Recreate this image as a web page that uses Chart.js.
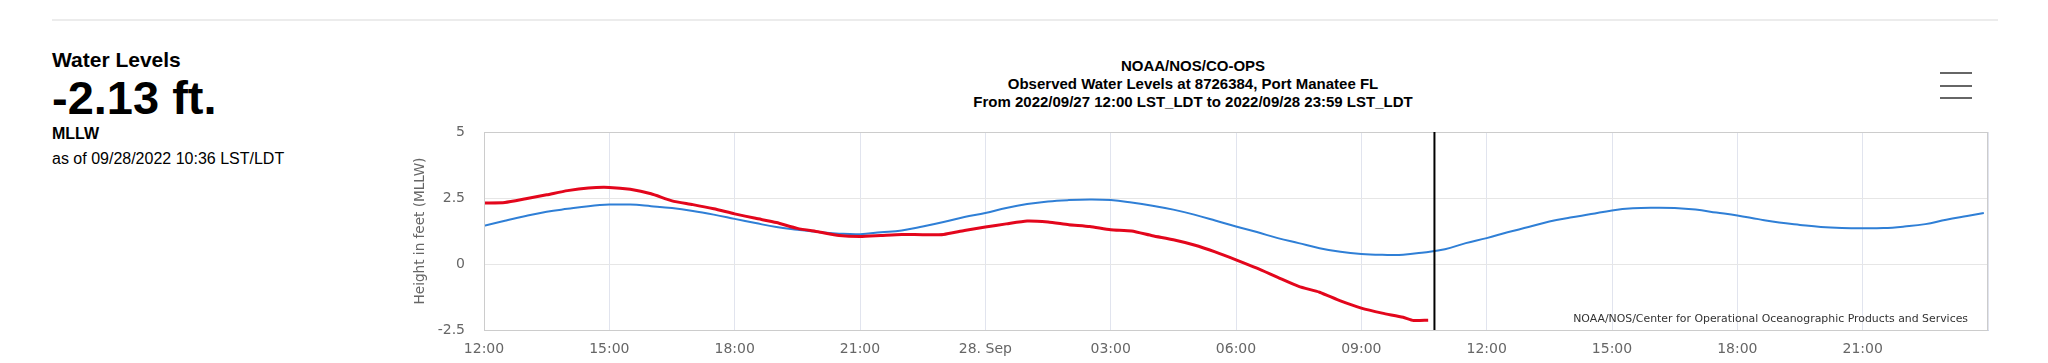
<!DOCTYPE html>
<html>
<head>
<meta charset="utf-8">
<title>Water Levels - Port Manatee FL</title>
<script src="https://cdn.jsdelivr.net/npm/chart.js@4.4.1/dist/chart.umd.min.js"></script>
<style>
  html, body { margin: 0; padding: 0; background: #fff; }
  body { width: 2048px; height: 363px; position: relative; overflow: hidden; font-family: "Liberation Sans", Arial, sans-serif; color: #000; }
  .rule { position: absolute; left: 52px; top: 19px; width: 1946px; height: 2px; background: #ececec; }
  .side div { position: absolute; left: 52px; white-space: nowrap; }
  .t1 { top: 49px; font-size: 21px; line-height: 21px; font-weight: bold; }
  .t2 { top: 74px; font-size: 47px; line-height: 47px; font-weight: bold; }
  .t3 { top: 126px; font-size: 16px; line-height: 16px; font-weight: bold; }
  .t4 { top: 151px; font-size: 16px; line-height: 16px; }
  .title { position: absolute; left: 893px; width: 600px; text-align: center; font-size: 15px; line-height: 15px; font-weight: bold; white-space: nowrap; }
  .menu { position: absolute; left: 1940px; width: 32px; height: 2px; background: #666; }
  .credits { position: absolute; right: 80px; top: 312px; font-family: "DejaVu Sans", sans-serif; font-size: 10.9px; color: #333; white-space: nowrap; }
  #chart { position: absolute; left: 380px; top: 120px; }
</style>
</head>
<body>
<div class="rule"></div>
<div class="side">
  <div class="t1">Water Levels</div>
  <div class="t2">-2.13 ft.</div>
  <div class="t3">MLLW</div>
  <div class="t4">as of 09/28/2022 10:36 LST/LDT</div>
</div>
<div class="title" style="top:58px">NOAA/NOS/CO-OPS</div>
<div class="title" style="top:76px">Observed Water Levels at 8726384, Port Manatee FL</div>
<div class="title" style="top:94px">From 2022/09/27 12:00 LST_LDT to 2022/09/28 23:59 LST_LDT</div>
<div class="menu" style="top:72px"></div>
<div class="menu" style="top:85px"></div>
<div class="menu" style="top:97px"></div>

<canvas id="chart" width="1630" height="243"></canvas>
<div class="credits">NOAA/NOS/Center for Operational Oceanographic Products and Services</div>

<script>
// hours after 2022/09/27 12:00 LST/LDT
const predHours = [0, 0.5, 1, 1.5, 2, 2.5, 3, 3.5, 4, 4.5, 5, 5.5, 6, 6.5, 7, 7.5, 8, 8.5, 9, 9.5,
  10, 10.5, 11, 11.5, 12, 12.5, 13, 13.5, 14, 14.5, 15, 15.5, 16, 16.5, 17, 17.5, 18, 18.5, 19, 19.5,
  20, 20.5, 21, 21.5, 22, 22.5, 23, 23.5, 24, 24.5, 25, 25.5, 26, 26.5, 27, 27.5, 28, 28.5, 29, 29.5,
  30, 30.5, 31, 31.5, 32, 32.5, 33, 33.5, 34, 34.5, 35, 35.5, 35.9];
const predValues = [1.45, 1.64, 1.82, 1.98, 2.09, 2.19, 2.25, 2.25, 2.19, 2.12, 2.01, 1.87, 1.71, 1.55, 1.40, 1.30, 1.21, 1.15, 1.13, 1.20,
  1.27, 1.42, 1.59, 1.78, 1.93, 2.12, 2.27, 2.37, 2.42, 2.44, 2.42, 2.33, 2.21, 2.06, 1.87, 1.65, 1.42, 1.21, 0.98, 0.79,
  0.60, 0.46, 0.38, 0.35, 0.35, 0.44, 0.56, 0.79, 0.98, 1.20, 1.40, 1.61, 1.76, 1.89, 2.03, 2.11, 2.13, 2.12, 2.06, 1.95,
  1.84, 1.70, 1.57, 1.48, 1.40, 1.36, 1.35, 1.36, 1.42, 1.51, 1.68, 1.82, 1.93];

const obsHours = [0, 0.5, 1, 1.5, 2, 2.5, 3, 3.5, 4, 4.5, 5, 5.5, 6, 6.5, 7, 7.5, 8, 8.5, 9, 9.5,
  10, 10.5, 11, 11.5, 12, 12.5, 13, 13.5, 14, 14.5, 15, 15.5, 16, 16.5, 17, 17.5, 18, 18.5, 19, 19.5,
  20, 20.5, 21, 21.5, 22, 22.25, 22.6];
const obsValues = [2.31, 2.33, 2.47, 2.62, 2.78, 2.88, 2.90, 2.83, 2.66, 2.39, 2.25, 2.09, 1.90, 1.73, 1.57, 1.35, 1.22, 1.08, 1.04, 1.08,
  1.12, 1.11, 1.12, 1.27, 1.40, 1.52, 1.63, 1.59, 1.49, 1.42, 1.30, 1.25, 1.07, 0.92, 0.72, 0.46, 0.16, -0.16, -0.51, -0.85,
  -1.07, -1.40, -1.67, -1.86, -2.02, -2.14, -2.13];

const xTickHours = [0, 3, 6, 9, 12, 15, 18, 21, 24, 27, 30, 33, 36];
const xTickLabels = ['12:00', '15:00', '18:00', '21:00', '28. Sep', '03:00', '06:00', '09:00', '12:00', '15:00', '18:00', '21:00', ''];
const nowHour = 22.75;

const plotDecor = {
  id: 'plotDecor',
  afterDraw(chart) {
    const {ctx, chartArea: a, scales} = chart;
    ctx.save();
    ctx.strokeStyle = '#cccccc';
    ctx.lineWidth = 1;
    ctx.strokeRect(a.left + 0.5, a.top + 0.5, a.right - a.left - 1, a.bottom - a.top);
    const x = scales.x.getPixelForValue(nowHour);
    ctx.strokeStyle = '#000';
    ctx.lineWidth = 2;
    ctx.beginPath();
    ctx.moveTo(x, a.top);
    ctx.lineTo(x, a.bottom);
    ctx.stroke();
    ctx.restore();
  }
};

const ctx = document.getElementById('chart').getContext('2d');
const chart = new Chart(ctx, {
  type: 'line',
  data: {
    datasets: [{
      label: 'Observed',
      data: obsHours.map((h, i) => ({x: h, y: obsValues[i]})),
      borderColor: '#e3061c',
      borderWidth: 3,
      pointRadius: 0,
      tension: 0.2
    }, {
      label: 'Predictions',
      data: predHours.map((h, i) => ({x: h, y: predValues[i]})),
      borderColor: '#2f7fd6',
      borderWidth: 2,
      pointRadius: 0,
      tension: 0.4
    }]
  },
  options: {
    responsive: false,
    animation: false,
    layout: { padding: { top: 12, right: 22, left: 0, bottom: 0 } },
    plugins: { legend: { display: false }, tooltip: { enabled: false } },
    scales: {
      x: {
        type: 'linear',
        min: 0,
        max: 36,
        afterFit(s) { s.height = 33; },
        afterBuildTicks(s) { s.ticks = xTickHours.map(v => ({value: v})); },
        ticks: {
          autoSkip: false,
          maxRotation: 0,
          padding: 11,
          color: '#666',
          font: { family: 'DejaVu Sans', size: 14 },
          callback: (v, i) => xTickLabels[i]
        },
        grid: { color: '#e1e4ee', drawTicks: false },
        border: { display: true, color: '#ccd6eb' }
      },
      y: {
        min: -2.5,
        max: 5,
        afterFit(s) { s.width = 104; s.paddingTop = 0; s.paddingBottom = 0; },
        ticks: {
          stepSize: 2.5,
          padding: 19,
          color: '#666',
          font: { family: 'DejaVu Sans', size: 14 }
        },
        title: {
          display: true,
          text: 'Height in feet (MLLW)',
          color: '#666',
          font: { family: 'DejaVu Sans', size: 13.6 },
          padding: { top: 32, bottom: 0 }
        },
        grid: { color: '#e6e6e6', drawTicks: false },
        border: { display: false }
      }
    }
  },
  plugins: [plotDecor]
});
</script>
</body>
</html>
